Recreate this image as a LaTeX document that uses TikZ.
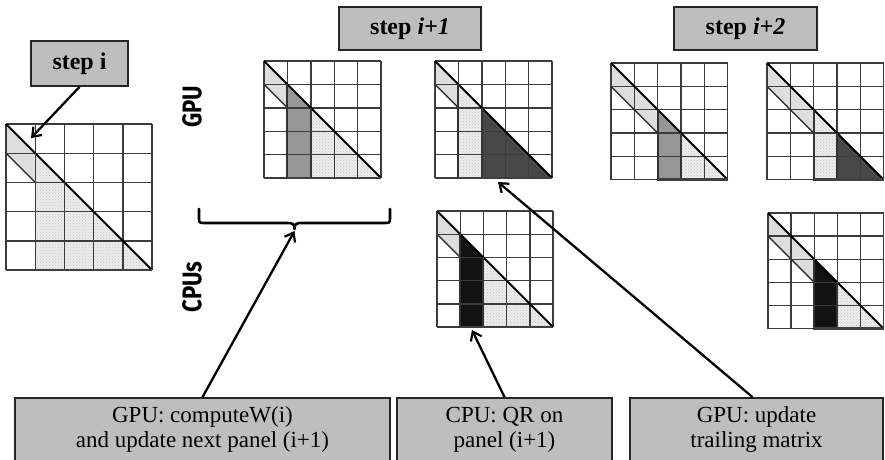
\documentclass[tikz,border=0pt]{standalone}
\usepackage{fontspec}
\setmainfont{Liberation Serif}
\newfontfamily\unitfont{Fira Sans}
\usetikzlibrary{arrows.meta,patterns}

\definecolor{boxgray}{RGB}{190,190,190}
\definecolor{bandgray}{RGB}{222,222,222}
\definecolor{midgray}{RGB}{150,150,150}
\definecolor{darkgray}{RGB}{72,72,72}
\definecolor{nearblack}{RGB}{18,18,18}
\definecolor{stipbase}{RGB}{236,236,236}
\definecolor{gridgray}{RGB}{60,60,60}

\tikzset{
  labelbox/.style={draw=black!85, line width=1.8pt, fill=boxgray, inner sep=0pt,
    align=center, font=\fontsize{23}{25}\selectfont},
  stepbox/.style={labelbox, font=\fontsize{24}{26}\selectfont\bfseries},
  unitlabel/.style={rotate=90, font=\unitfont\fontsize{27}{27}\selectfont\bfseries, inner sep=0pt},
  pointer/.style={line width=2.3pt, black, -{Straight Barb[length=8pt,width=12pt,line width=2.2pt]}},
  gridline/.style={draw=gridgray, line width=1.4pt},
  diagline/.style={draw=black, line width=2pt},
  bandline/.style={draw=black!80, line width=1.4pt},
  edgeline/.style={draw=black!75, line width=2.2pt},
  paneledge/.style={draw=black!80, line width=2pt},
  bandfill/.style={fill=bandgray},
  stip/.style={preaction={fill=stipbase}, pattern=crosshatch dots, pattern color=black!22},
  midpanel/.style={fill=midgray},
  darkpanel/.style={fill=darkgray},
  blackpanel/.style={fill=nearblack},
  bracket/.style={line width=2.6pt, line cap=round, line join=round},
}

% 5x5 tile matrix: top-left corner (#1,#2), cell size #3, panel column #4,
% panel style #5, trailing-part style #6, panel outline style #7
\newcommand\qrmat[7]{%
  \begin{scope}[shift={(#1,#2)}, x=#3pt, y=-#3pt]
    \path[bandfill] (0,0) -- (#4,#4) -- (#4,#4+1) -- (0,1) -- cycle;
    \path[#5] (#4,#4) -- (#4+1,#4+1) -- (#4+1,5) -- (#4,5) -- cycle;
    \path[#6] (#4+1,#4+1) -- (5,5) -- (#4+1,5) -- cycle;
    \foreach \t in {0,...,5} {
      \draw[gridline] (\t,0) -- (\t,5);
      \draw[gridline] (0,\t) -- (5,\t);
    }
    \draw[diagline] (0,0) -- (5,5);
    \draw[bandline] (0,1) -- (#4,#4+1);
    \draw[#7] (#4,#4) -- (#4,5) -- (#4+1,5) -- (#4+1,#4+1);
    \draw[edgeline] (#4,5) -- (5,5);
  \end{scope}}

\begin{document}
\begin{tikzpicture}[x=1pt, y=-1pt]
  \useasboundingbox (0,0) rectangle (885,459);

  % step i
  \qrmat{6}{124}{29.2}{1}{stip}{stip}{gridline}
  % step i+1: GPU panel update, GPU trailing update, CPU panel QR
  \qrmat{264}{61}{23.4}{1}{midpanel}{stip}{paneledge}
  \qrmat{435}{61}{23.4}{1}{stip}{darkpanel}{paneledge}
  \qrmat{437}{211}{23.2}{1}{blackpanel}{stip}{paneledge}
  % step i+2
  \qrmat{611}{63}{23.3}{2}{midpanel}{stip}{paneledge}
  \qrmat{767}{63}{23.3}{2}{stip}{darkpanel}{paneledge}
  \qrmat{768}{213}{23.1}{2}{blackpanel}{stip}{paneledge}

  % step headings
  \node[stepbox, minimum width=97pt, minimum height=45pt] (stepi) at (79.5,63.5) {step i};
  \node[stepbox, minimum width=142pt, minimum height=43pt] (stepj) at (410,28.5) {step \textit{i+1}};
  \node[stepbox, minimum width=143pt, minimum height=43pt] (stepk) at (745.5,28.5) {step \textit{i+2}};

  % processor labels
  \node[unitlabel] (gpu) at (192,107) {\scalebox{0.82}[1]{GPU}};
  \node[unitlabel] (cpus) at (192,287) {\scalebox{0.82}[1]{CPUs}};

  % flat brace over the step i+1 GPU work
  \draw[bracket] (199,209) -- (199,217) .. controls (199,223) and (199,223) .. (205,223)
    -- (288,223) .. controls (292.5,223) and (294.5,224) .. (294.5,229)
    .. controls (294.5,224) and (296.5,223) .. (301,223)
    -- (384,223) .. controls (390,223) and (390,223) .. (390,217) -- (390,209);
  \coordinate (bracetip) at (294.5,231);

  % task descriptions
  \node[labelbox, minimum width=375pt, minimum height=63pt] (taskw) at (202.5,429.5)
    {GPU: computeW(i)\\and update next panel (i+1)};
  \node[labelbox, minimum width=215pt, minimum height=63pt] (taskqr) at (504.5,429.5)
    {CPU: QR on\\panel (i+1)};
  \node[labelbox, minimum width=253pt, minimum height=63pt] (tasktrail) at (756.5,429.5)
    {GPU: update\\trailing matrix};

  % arrow targets
  \coordinate (panelzero) at (31,138);
  \coordinate (cpupanel) at (472,330);
  \coordinate (trailing) at (498,182);

  \draw[pointer] (stepi.south) -- (panelzero);
  \draw[pointer] (taskw.north) -- (bracetip);
  \draw[pointer] (taskqr.north) -- (cpupanel);
  \draw[pointer] ([xshift=-4pt]tasktrail.north) -- (trailing);
\end{tikzpicture}
\end{document}
